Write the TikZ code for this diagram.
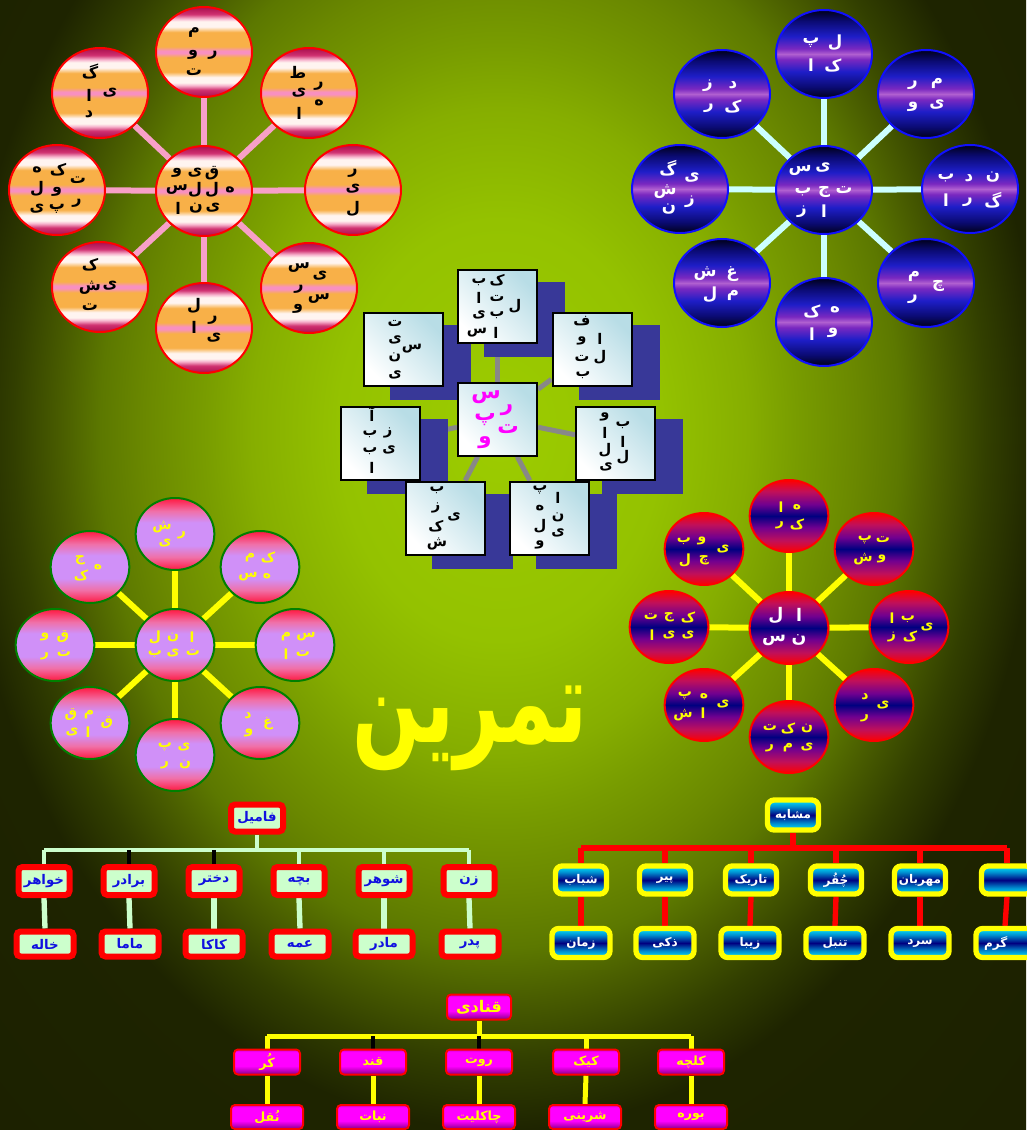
\documentclass[tikz,border=0pt]{standalone}
\usepackage{fontspec}
\usetikzlibrary{shapes.geometric,calc}
\newfontfamily\ar[Script=Arabic]{DejaVu Sans}
\TeXXeTstate=1
\definecolor{bg0}{HTML}{9CCC00}
\definecolor{bg1}{HTML}{94C200}
\definecolor{bg2}{HTML}{86AE00}
\definecolor{bg3}{HTML}{789C00}
\definecolor{bg4}{HTML}{6A8800}
\definecolor{bg5}{HTML}{5C7800}
\definecolor{bg6}{HTML}{4A5E00}
\definecolor{bg7}{HTML}{323F00}
\definecolor{bg8}{HTML}{1E2400}
\definecolor{bg9}{HTML}{181C00}
\definecolor{cr1}{HTML}{A8104F}
\definecolor{cr2}{HTML}{D03070}
\definecolor{pk1}{HTML}{F8B8D0}
\definecolor{wh}{HTML}{FFF4F0}
\definecolor{orng}{HTML}{F8B048}
\definecolor{pk2}{HTML}{F890C0}
\definecolor{nv0}{HTML}{000018}
\definecolor{nv1}{HTML}{0A0A70}
\definecolor{nv2}{HTML}{1E1EC8}
\definecolor{nv3}{HTML}{7A28C0}
\definecolor{nv4}{HTML}{B060D0}
\definecolor{rb0}{HTML}{FF0000}
\definecolor{rb1}{HTML}{C0105A}
\definecolor{rb2}{HTML}{700090}
\definecolor{rb3}{HTML}{000080}
\definecolor{pl0}{HTML}{FF1840}
\definecolor{pl1}{HTML}{F070A8}
\definecolor{pl2}{HTML}{D090F8}
\definecolor{cn0}{HTML}{00E8FF}
\definecolor{cn1}{HTML}{0090D0}
\definecolor{cn2}{HTML}{000080}
\definecolor{mg0}{HTML}{800080}
\definecolor{mg1}{HTML}{FF00FF}
\definecolor{mg2}{HTML}{D000D0}
\definecolor{mg3}{HTML}{C000C0}
\definecolor{boxc}{HTML}{B8DDE6}
\definecolor{shadc}{HTML}{383898}
\definecolor{spokeA}{HTML}{F8A0C8}
\definecolor{spokeB}{HTML}{CCFFFF}
\definecolor{famg}{HTML}{CCFFCC}
\definecolor{famt}{HTML}{1010E0}
\definecolor{bordB}{HTML}{1010FF}
\definecolor{greenb}{HTML}{008000}
\definecolor{greyl}{HTML}{888888}
\definecolor{yel}{HTML}{FFFF00}
\definecolor{magt}{HTML}{FF00FF}

\pgfdeclareradialshading{bgshade}{\pgfpoint{0bp}{0bp}}{color(0bp)=(bg0); color(7.5bp)=(bg1); color(11.5bp)=(bg2); color(13.75bp)=(bg3); color(16.5bp)=(bg4); color(18.5bp)=(bg5); color(20.25bp)=(bg6); color(22.5bp)=(bg7); color(25bp)=(bg8); color(50bp)=(bg9)}
\pgfdeclareverticalshading{stripes}{100bp}{color(0bp)=(cr1); color(25bp)=(cr1); color(29bp)=(cr2); color(31.5bp)=(pk1); color(33bp)=(wh); color(36bp)=(wh); color(39bp)=(orng); color(47bp)=(orng); color(49.3bp)=(pk2); color(50.7bp)=(pk2); color(53bp)=(orng); color(61bp)=(orng); color(64bp)=(wh); color(67bp)=(wh); color(68.5bp)=(pk1); color(71bp)=(cr2); color(75bp)=(cr1); color(100bp)=(cr1)}
\pgfdeclareverticalshading{navy}{100bp}{color(0bp)=(nv0); color(25bp)=(nv0); color(31bp)=(nv1); color(40bp)=(nv2); color(47bp)=(nv3); color(50bp)=(nv4); color(53bp)=(nv3); color(60bp)=(nv2); color(69bp)=(nv1); color(75bp)=(nv0); color(100bp)=(nv0)}
\pgfdeclareverticalshading{redblue}{100bp}{color(0bp)=(rb0); color(25bp)=(rb0); color(33bp)=(rb1); color(42bp)=(rb2); color(50bp)=(rb3); color(58bp)=(rb2); color(67bp)=(rb1); color(75bp)=(rb0); color(100bp)=(rb0)}
\pgfdeclareverticalshading{pinklav}{100bp}{color(0bp)=(pl0); color(25bp)=(pl0); color(34bp)=(pl1); color(42bp)=(pl2); color(58bp)=(pl2); color(66bp)=(pl1); color(75bp)=(pl0); color(100bp)=(pl0)}
\pgfdeclareverticalshading{cyannavy}{100bp}{color(0bp)=(cn0); color(25bp)=(cn0); color(36bp)=(cn1); color(50bp)=(cn2); color(64bp)=(cn1); color(75bp)=(cn0); color(100bp)=(cn0)}
\pgfdeclareverticalshading{magent}{100bp}{color(0bp)=(mg0); color(25bp)=(mg0); color(33bp)=(mg3); color(42bp)=(mg1); color(70bp)=(mg1); color(75bp)=(mg2); color(100bp)=(mg2)}

\pgfdeclarelayer{back}
\pgfdeclarelayer{lines}
\pgfdeclarelayer{shadow}
\pgfsetlayers{back,lines,shadow,main}

\newcounter{ltc}
\newcommand\putl[3]{\stepcounter{ltc}\node[lt] (L\arabic{ltc}) at (#1,#2) {#3};}

\begin{document}
\begin{tikzpicture}[x=0.75pt,y=-0.75pt,
  ltfont/.style={font=\ar\bfseries\fontsize{#1}{#1}\selectfont},
  lt/.style={inner sep=0pt},
  circA/.style={ellipse, shade, shading=stripes, draw=red, line width=1.5pt, inner sep=0pt, minimum width=72pt, minimum height=67.5pt},
  circB/.style={ellipse, shade, shading=navy, draw=bordB, line width=1.5pt, inner sep=0pt, minimum width=72pt, minimum height=66pt},
  circC/.style={ellipse, shade, shading=pinklav, draw=greenb, line width=1.5pt, inner sep=0pt, minimum width=59pt, minimum height=54pt},
  circD/.style={ellipse, shade, shading=redblue, draw=red, line width=1.5pt, inner sep=0pt, minimum width=59pt, minimum height=54pt},
  boxE/.style={rectangle, shade, top color=boxc, bottom color=white, shading angle=-45, draw=black, line width=1.5pt, inner sep=0pt, minimum width=59.25pt, minimum height=54.75pt},
  spA/.style={draw=spokeA, line width=4.5pt},
  spB/.style={draw=spokeB, line width=4.5pt},
  spY/.style={draw=yel, line width=4.5pt},
  greyln/.style={draw=greyl, line width=3.75pt},
  famBox/.style={draw=red, line width=4.5pt, fill=famg, rounded corners=3pt, inner sep=0pt, text=famt, ltfont=10},
  famln/.style={draw=famg, line width=3pt},
  famln2/.style={draw=famg, line width=4pt},
  blkln/.style={draw=black, line width=3pt},
  simBox/.style={draw=yel, line width=4pt, shade, shading=cyannavy, rounded corners=5pt, inner sep=0pt, text=white, ltfont=9},
  simln/.style={draw=red, line width=4pt},
  qBox/.style={draw=red, line width=1.5pt, shade, shading=magent, rounded corners=3pt, inner sep=0pt, text=yel, ltfont=9.5},
  qln/.style={draw=yel, line width=3.75pt},
  titlestyle/.style={inner sep=0pt, text=yel, ltfont=60}
]
\useasboundingbox (0,0) rectangle (1026,1130);
\begin{pgfonlayer}{back}
\clip (0,0) rectangle (1026,1130);
\shade[shading=bgshade] (-40,-270) rectangle (1040,1130);
\end{pgfonlayer}

% ---------- top-left cluster ----------
\node[circA] (a0) at (204,191) {};
\node[circA] (a1) at (204,52) {};
\node[circA] (a2) at (309,93) {};
\node[circA] (a3) at (353,190) {};
\node[circA] (a4) at (309,288) {};
\node[circA] (a5) at (204,328) {};
\node[circA] (a6) at (100,287) {};
\node[circA] (a7) at (57,190) {};
\node[circA] (a8) at (100,93) {};
\begin{scope}[lt/.style={inner sep=0pt, ltfont=12, text=black}]
\putl{194}{33}{م}\putl{193}{55}{و}\putl{213}{55}{ر}\putl{194}{72}{ت}
\putl{298}{72}{ط}\putl{319}{86}{ر}\putl{299}{93}{ی}\putl{319}{103}{ه}\putl{299}{113}{ا}
\putl{353}{173}{ر}\putl{353}{189}{ی}\putl{353}{209}{ل}
\putl{299}{268}{س}\putl{320}{276}{ی}\putl{299}{289}{ر}\putl{319}{299}{س}\putl{298}{309}{و}
\putl{194}{306}{ل}\putl{213}{320}{ر}\putl{194}{327}{ا}\putl{214}{338}{ی}
\putl{90}{265}{ک}\putl{110}{286}{ی}\putl{90}{288}{ش}\putl{90}{307}{ت}
\putl{37}{170}{ه}\putl{58}{170}{ک}\putl{78}{180}{ت}\putl{37}{189}{ل}\putl{57}{192}{و}\putl{77}{203}{ر}\putl{37}{209}{ی}\putl{57}{209}{پ}
\putl{90}{72}{گ}\putl{110}{93}{ی}\putl{89}{95}{ا}\putl{89}{114}{د}
\putl{177}{173}{و}\putl{195}{173}{ی}\putl{212}{173}{ق}\putl{177}{190}{س}\putl{195}{190}{ل}\putl{212}{190}{ل}\putl{230}{190}{ه}\putl{178}{208}{ا}\putl{196}{208}{ن}\putl{213}{208}{ی}
\end{scope}

% ---------- top-right cluster ----------
\node[circB] (b0) at (824,190) {};
\node[circB] (b1) at (824,54) {};
\node[circB] (b2) at (926,94) {};
\node[circB] (b3) at (970,189) {};
\node[circB] (b4) at (926,283) {};
\node[circB] (b5) at (824,322) {};
\node[circB] (b6) at (722,283) {};
\node[circB] (b7) at (680,189) {};
\node[circB] (b8) at (722,94) {};
\begin{scope}[lt/.style={inner sep=0pt, ltfont=12.5, text=white}]
\putl{835}{43}{ل}\putl{811}{43}{پ}\putl{833}{65}{ک}\putl{811}{65}{ا}
\putl{937}{83}{م}\putl{913}{85}{ر}\putl{937}{105}{ی}\putl{913}{107}{و}
\putl{993}{177}{ن}\putl{969}{178}{د}\putl{946}{178}{ب}\putl{993}{200}{گ}\putl{968}{202}{ر}\putl{946}{200}{ا}
\putl{914}{276}{م}\putl{938}{286}{چ}\putl{913}{299}{ر}
\putl{835}{310}{ه}\putl{812}{311}{ک}\putl{833}{333}{و}\putl{812}{334}{ا}
\putl{732}{274}{غ}\putl{705}{274}{ش}\putl{733}{295}{م}\putl{710}{295}{ل}
\putl{668}{168}{گ}\putl{692}{178}{ی}\putl{665}{192}{ش}\putl{690}{202}{ز}\putl{669}{209}{ن}
\putl{733}{85}{د}\putl{708}{86}{ز}\putl{733}{106}{ک}\putl{709}{108}{ر}
\putl{823}{168}{ی}\putl{800}{170}{س}\putl{844}{190}{ت}\putl{824}{192}{ج}\putl{803}{192}{ب}\putl{824}{211}{ا}\putl{802}{212}{ز}
\end{scope}

% ---------- centre boxes ----------
\node[boxE] (e0) at (497.5,419) {};
\node[boxE] (e1) at (497.5,306.5) {};
\node[boxE] (e2) at (592,349.5) {};
\node[boxE] (e3) at (615.5,443) {};
\node[boxE] (e4) at (549.5,518) {};
\node[boxE] (e5) at (445.5,518) {};
\node[boxE] (e6) at (380.5,443) {};
\node[boxE] (e7) at (403.5,349.5) {};
\begin{scope}[lt/.style={inner sep=0pt, ltfont=11, text=black}]
\putl{497}{280}{ک}\putl{479}{282}{ب}\putl{497}{298}{ت}\putl{515}{306}{ل}\putl{479}{298}{ا}\putl{497}{315}{ب}\putl{479}{315}{ی}\putl{496}{333}{ا}\putl{477}{333}{س}
\putl{395}{323}{ت}\putl{395}{340}{ی}\putl{412}{349}{س}\putl{395}{357}{ن}\putl{395}{375}{ی}
\putl{582}{321}{ف}\putl{600}{339}{ا}\putl{582}{341}{و}\putl{600}{357}{ل}\putl{582}{358}{ت}\putl{583}{375}{ب}
\putl{372}{414}{آ}\putl{388}{433}{ز}\putl{370}{434}{ب}\putl{389}{450}{ی}\putl{370}{451}{ب}\putl{372}{468}{ا}
\putl{605}{417}{و}\putl{623}{425}{ب}\putl{605}{433}{ا}\putl{623}{442}{ا}\putl{605}{450}{ل}\putl{623}{457}{ل}\putl{606}{467}{ی}
\putl{437}{490}{ب}\putl{436}{508}{ز}\putl{454}{517}{ی}\putl{436}{526}{ک}\putl{437}{544}{ش}
\putl{540}{490}{پ}\putl{558}{498}{ا}\putl{540}{508}{ه}\putl{558}{517}{ن}\putl{540}{526}{ل}\putl{558}{533}{ی}\putl{540}{545}{و}
\end{scope}
\begin{scope}[lt/.style={inner sep=0pt, ltfont=16, text=magt}]
\putl{486}{397}{س}\putl{507}{410}{ر}\putl{485}{420}{پ}\putl{508}{429}{ت}\putl{485}{443}{و}
\end{scope}

% ---------- bottom-left cluster ----------
\node[circC] (c0) at (175,645) {};
\node[circC] (c1) at (175,534) {};
\node[circC] (c2) at (260,567) {};
\node[circC] (c3) at (295,645) {};
\node[circC] (c4) at (260,723) {};
\node[circC] (c5) at (175,755) {};
\node[circC] (c6) at (90,723) {};
\node[circC] (c7) at (55,645) {};
\node[circC] (c8) at (90,567) {};
\begin{scope}[lt/.style={inner sep=0pt, ltfont=10.5, text=yel}]
\putl{162}{527}{ش}\putl{182}{535}{ر}\putl{165}{543}{ی}
\putl{268}{557}{ک}\putl{250}{558}{م}\putl{267}{576}{ه}\putl{248}{577}{س}
\putl{306}{637}{س}\putl{286}{637}{م}\putl{303}{654}{ت}\putl{286}{654}{ا}
\putl{248}{716}{د}\putl{268}{724}{غ}\putl{249}{733}{و}
\putl{184}{747}{ی}\putl{165}{747}{پ}\putl{185}{764}{ن}\putl{165}{765}{ر}
\putl{107}{723}{ق}\putl{89}{715}{م}\putl{71}{715}{ق}\putl{88}{732}{ا}\putl{72}{732}{ی}
\putl{63}{637}{ق}\putl{45}{637}{و}\putl{64}{654}{ت}\putl{45}{656}{ر}
\putl{80}{560}{ج}\putl{98}{567}{ه}\putl{81}{575}{ک}
\putl{192}{637}{ا}\putl{173}{637}{ن}\putl{155}{637}{ل}\putl{193}{653}{ت}\putl{173}{653}{ی}\putl{155}{654}{ب}
\end{scope}

% ---------- bottom-right cluster ----------
\node[circD] (d0) at (789,628) {};
\node[circD] (d1) at (789,516) {};
\node[circD] (d2) at (874,549) {};
\node[circD] (d3) at (909,627) {};
\node[circD] (d4) at (874,705) {};
\node[circD] (d5) at (789,737) {};
\node[circD] (d6) at (704,705) {};
\node[circD] (d7) at (669,627) {};
\node[circD] (d8) at (704,549) {};
\begin{scope}[lt/.style={inner sep=0pt, ltfont=10.5, text=yel}]
\putl{797}{507}{ه}\putl{781}{507}{ا}\putl{797}{524}{ک}\putl{780}{525}{ر}
\putl{883}{540}{ت}\putl{865}{540}{پ}\putl{882}{559}{و}\putl{863}{559}{ش}
\putl{927}{627}{ی}\putl{908}{619}{ب}\putl{892}{618}{ا}\putl{910}{636}{ک}\putl{892}{637}{ز}
\putl{865}{697}{د}\putl{883}{705}{ی}\putl{865}{718}{ر}
\putl{807}{728}{ن}\putl{788}{728}{ک}\putl{770}{728}{ت}\putl{807}{747}{ی}\putl{788}{748}{م}\putl{770}{748}{ر}
\putl{704}{696}{ه}\putl{685}{696}{پ}\putl{723}{704}{ی}\putl{703}{713}{ا}\putl{683}{715}{ش}
\putl{688}{617}{ک}\putl{669}{617}{ج}\putl{651}{617}{ت}\putl{688}{635}{ی}\putl{669}{635}{ی}\putl{652}{635}{ا}
\putl{702}{541}{و}\putl{684}{541}{ب}\putl{723}{549}{ی}\putl{704}{560}{چ}\putl{685}{560}{ل}
\end{scope}
\begin{scope}[lt/.style={inner sep=0pt, ltfont=13, text=white}]
\putl{799}{615}{ا}\putl{776}{615}{ل}\putl{799}{640}{ن}\putl{774}{640}{س}
\end{scope}

% ---------- title ----------
\node[titlestyle] (ttl) at (470,728) {\scalebox{1}[1.45]{\beginR تمرین\endR}};

% ---------- family tree ----------
\node[famBox, minimum width=39pt, minimum height=20.25pt] (f0) at (257,818) {\beginR فامیل\endR};
\begin{scope}[every node/.append style={famBox, minimum width=38.25pt, minimum height=21pt}]
\node (f1) at (44,881) {\beginR خواهر\endR};
\node (f2) at (129,881) {\beginR برادر\endR};
\node (f3) at (214,881) {\beginR دختر\endR};
\node (f4) at (299,881) {\beginR بچه\endR};
\node (f5) at (384,881) {\beginR شوهر\endR};
\node (f6) at (469,881) {\beginR زن\endR};
\end{scope}
\begin{scope}[every node/.append style={famBox, minimum width=42.75pt, minimum height=18.75pt}]
\node (g1) at (45,944) {\beginR خاله\endR};
\node (g2) at (130,944) {\beginR ماما\endR};
\node (g3) at (214,944) {\beginR کاکا\endR};
\node (g4) at (300,944) {\beginR عمه\endR};
\node (g5) at (384,944) {\beginR مادر\endR};
\node (g6) at (470,944) {\beginR پدر\endR};
\end{scope}

% ---------- similar tree ----------
\node[simBox, minimum width=38.25pt, minimum height=22.5pt] (s0) at (793,815) {\beginR مشابه\endR};
\begin{scope}[every node/.append style={simBox, minimum width=38.25pt, minimum height=21pt}]
\node (s1) at (581,880) {\beginR شباب\endR};
\node (s2) at (665,880) {\beginR پیر\endR};
\node (s3) at (751,880) {\beginR تاریک\endR};
\node (s4) at (836,880) {\beginR چُقُر\endR};
\node (s5) at (920,880) {\beginR مهربان\endR};
\node (s6) at (1007,880) {};
\end{scope}
\begin{scope}[every node/.append style={simBox, minimum width=43.5pt, minimum height=21.75pt}]
\node (r1) at (581,943) {\beginR زمان\endR};
\node (r2) at (665,943) {\beginR ذکی\endR};
\node (r3) at (750,943) {\beginR زیبا\endR};
\node (r4) at (835,943) {\beginR تنبل\endR};
\node (r5) at (920,943) {\beginR سرد\endR};
\node (r6) at (1005,943) {\hspace*{-14pt}\beginR گرم\endR};
\end{scope}

% ---------- confectionery tree ----------
\node[qBox, minimum width=48pt, minimum height=18.75pt, ltfont=12] (q0) at (479,1007) {\beginR قنادی\endR};
\begin{scope}[every node/.append style={qBox, minimum width=49.5pt, minimum height=18.75pt}]
\node (p1) at (267,1062) {\beginR کُر\endR};
\node (p2) at (373,1062) {\beginR قند\endR};
\node (p3) at (479,1062) {\beginR روت\endR};
\node (p4) at (586,1062) {\beginR کیک\endR};
\node (p5) at (691,1062) {\beginR کلچه\endR};
\end{scope}
\begin{scope}[every node/.append style={qBox, minimum width=54pt, minimum height=18pt}]
\node (o1) at (267,1117) {\beginR نُقل\endR};
\node (o2) at (373,1117) {\beginR نبات\endR};
\node (o3) at (479,1117) {\beginR چاکلیت\endR};
\node (o4) at (585,1117) {\beginR شرینی\endR};
\node (o5) at (691,1117) {\beginR بوره\endR};
\end{scope}

% ---------- connectors ----------
\begin{pgfonlayer}{lines}
\foreach \i in {1,...,8} {
  \draw[spA] (a0) -- (a\i);
  \draw[spB] (b0) -- (b\i);
  \draw[spY] (c0) -- (c\i);
  \draw[spY] (d0) -- (d\i);
}
\foreach \i in {1,...,7} \draw[greyln] (e0) -- (e\i);
% family
\coordinate (fb) at (258,850);
\draw[famln] (f0.south) -- (f0.south |- fb);
\draw[famln] (f1.north |- fb) -- (f6.north |- fb);
\foreach \i in {1,4,5,6} \draw[famln] (f\i.north |- fb) -- (f\i.north);
\foreach \i in {2,3} \draw[blkln] (f\i.north |- fb) -- (f\i.north);
\foreach \i in {1,...,6} \draw[famln2] (f\i.south) -- (g\i.north);
% similar
\coordinate (sb) at (793,848);
\draw[simln] (s0.south) -- (s0.south |- sb);
\draw[simln] (s1.north |- sb) -- (s6.north |- sb);
\foreach \i in {1,...,6} {
  \draw[simln] (s\i.north |- sb) -- (s\i.north);
  \draw[simln] (s\i.south) -- (r\i.north);
}
% confectionery
\coordinate (qb) at (479,1036);
\draw[qln] (q0.south) -- (q0.south |- qb);
\draw[qln] (p1.north |- qb) -- (p5.north |- qb);
\foreach \i in {1,4,5} \draw[qln] (p\i.north |- qb) -- (p\i.north);
\foreach \i in {2,3} \draw[blkln] (p\i.north |- qb) -- (p\i.north);
\foreach \i in {1,...,5} \draw[qln] (p\i.south) -- (o\i.north);
\end{pgfonlayer}

% ---------- shadows ----------
\begin{pgfonlayer}{shadow}
\foreach \i in {1,...,7}
  \fill[shadc] ([shift={(27,13)}]e\i.north west) rectangle ([shift={(27,13)}]e\i.south east);
\end{pgfonlayer}
\end{tikzpicture}
\end{document}
